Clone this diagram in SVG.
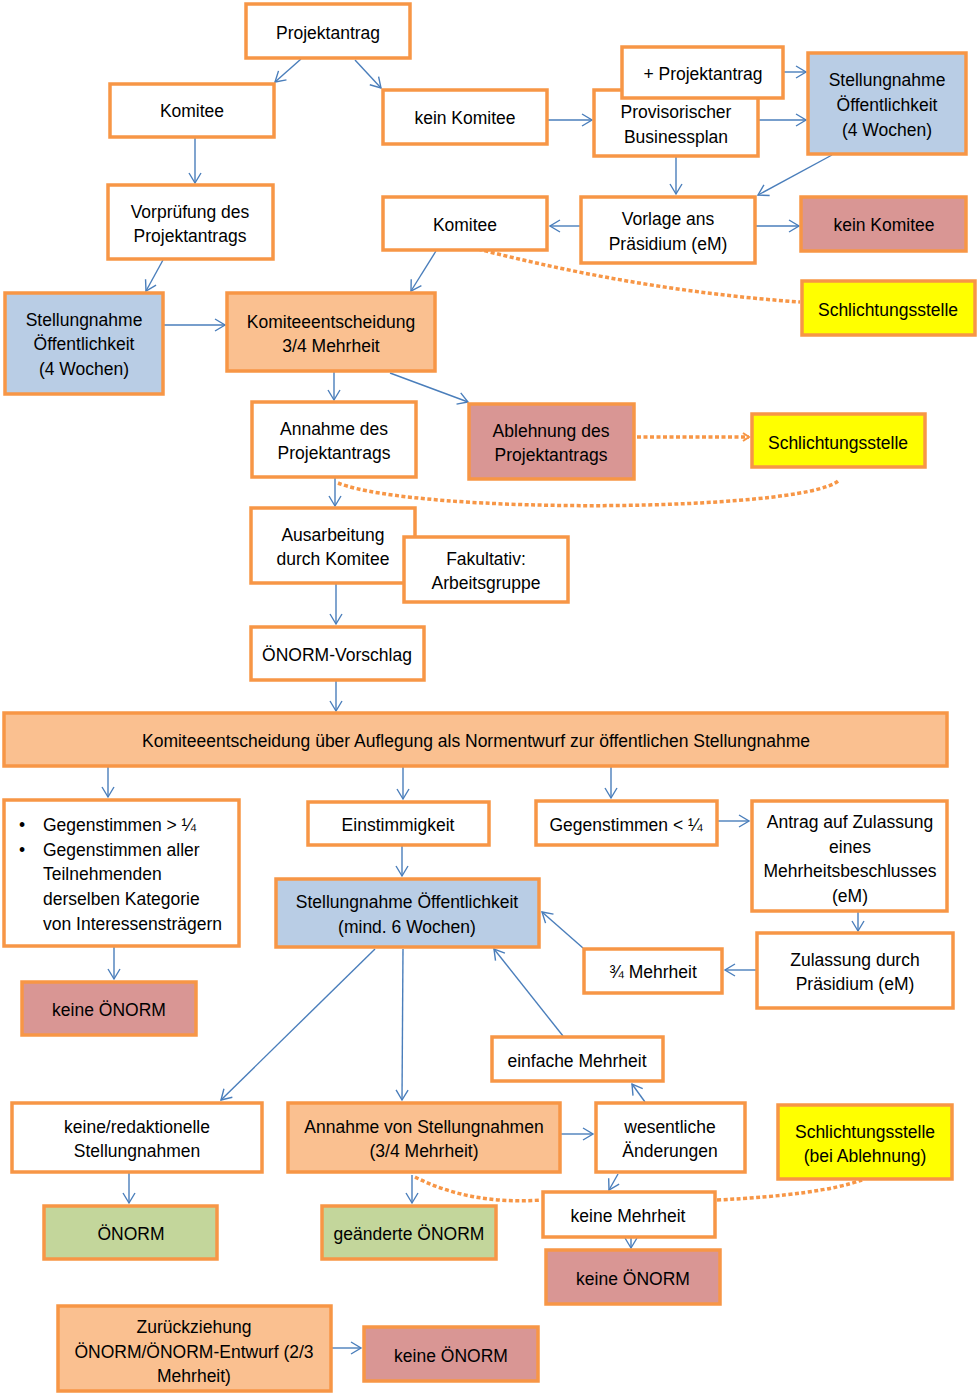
<svg xmlns="http://www.w3.org/2000/svg" width="980" height="1396" viewBox="0 0 980 1396">
<defs>
<style>
.b{stroke:#f79646;stroke-width:3.5;fill:#ffffff}
.bl{fill:#b9cde5}
.pe{fill:#fac090}
.rd{fill:#d99694}
.ye{fill:#ffff00}
.gr{fill:#c3d69b}
text{font-family:"Liberation Sans",Arial,sans-serif;font-size:17.5px;fill:#000;text-anchor:middle}
.c line,.c path.a{stroke:#4a7ebb;stroke-width:1.4;fill:none;marker-end:url(#ah)}
.d{stroke:#f79646;stroke-width:3.5;fill:none;stroke-dasharray:4 2.5}
</style>
<marker id="ah" markerUnits="userSpaceOnUse" markerWidth="14" markerHeight="14" refX="11" refY="7" orient="auto">
<path d="M1,1 L11,7 L1,13" fill="none" stroke="#4a7ebb" stroke-width="1.4"/>
</marker>
<marker id="oh" markerUnits="userSpaceOnUse" markerWidth="10" markerHeight="10" refX="7" refY="5" orient="auto">
<path d="M1,1 L7,5 L1,9" fill="none" stroke="#f79646" stroke-width="2"/>
</marker>
</defs>
<rect width="980" height="1396" fill="#ffffff"/>

<g id="connectors" class="c">
<line x1="301" y1="59" x2="275" y2="82"/>
<line x1="355" y1="60" x2="381" y2="88"/>
<line x1="195" y1="138" x2="195" y2="183"/>
<line x1="548" y1="120" x2="592" y2="120"/>
<line x1="784" y1="72" x2="806" y2="72"/>
<line x1="759" y1="120" x2="806" y2="120"/>
<line x1="676" y1="157" x2="676" y2="194"/>
<line x1="832" y1="155" x2="758" y2="195"/>
<line x1="580" y1="226" x2="550" y2="226"/>
<line x1="756" y1="226" x2="799" y2="226"/>
<line x1="436" y1="251" x2="411" y2="291"/>
<line x1="163" y1="260" x2="146" y2="291"/>
<line x1="164" y1="325" x2="225" y2="325"/>
<line x1="334" y1="372" x2="334" y2="400"/>
<line x1="390" y1="373" x2="468" y2="402"/>
<line x1="335" y1="478" x2="335" y2="506"/>
<line x1="336" y1="584" x2="336" y2="624"/>
<line x1="336" y1="681" x2="336" y2="711"/>
<line x1="108" y1="767" x2="108" y2="797"/>
<line x1="403" y1="767" x2="403" y2="799"/>
<line x1="611" y1="767" x2="611" y2="798"/>
<line x1="402" y1="846" x2="402" y2="876"/>
<line x1="718" y1="821" x2="749" y2="821"/>
<line x1="858" y1="912" x2="858" y2="931"/>
<line x1="756" y1="970" x2="725" y2="970"/>
<line x1="583" y1="948" x2="542" y2="912"/>
<line x1="563" y1="1036" x2="494" y2="949"/>
<line x1="114" y1="947" x2="114" y2="979"/>
<line x1="375" y1="949" x2="221" y2="1100"/>
<line x1="403" y1="949" x2="402" y2="1100"/>
<line x1="561" y1="1134" x2="593" y2="1134"/>
<line x1="645" y1="1102" x2="632" y2="1084"/>
<line x1="618" y1="1174" x2="609" y2="1190"/>
<line x1="129" y1="1173" x2="129" y2="1203"/>
<line x1="412" y1="1175" x2="412" y2="1203"/>
<line x1="631" y1="1238" x2="631" y2="1248"/>
<line x1="332" y1="1348" x2="361" y2="1348"/>
<path class="d" d="M478,249 Q642,291 800,302"/>
<path class="d" d="M637,437 L749,437" stroke-width="5" stroke-dasharray="2 2" marker-end="url(#oh)"/>
<path class="d" d="M338,483 C420,515 800,512 838,481"/>
<path class="d" d="M415,1177 Q470,1205 541,1200"/>
<path class="d" d="M717,1200 Q820,1195 862,1180"/>
</g>

<g id="n-projektantrag"><rect class="b" x="246" y="4" width="164" height="54"/><text x="328" y="39">Projektantrag</text></g>
<g id="n-komitee1"><rect class="b" x="110" y="84" width="164" height="53"/><text x="192" y="117">Komitee</text></g>
<g id="n-keinkomitee1"><rect class="b" x="383" y="90" width="164" height="54"/><text x="465" y="124">kein Komitee</text></g>
<g id="n-businessplan"><rect class="b" x="594" y="90" width="164" height="66"/><text x="676" y="118">Provisorischer</text><text x="676" y="143">Businessplan</text></g>
<g id="n-plusprojektantrag"><rect class="b" x="622" y="47" width="161" height="51"/><text x="703" y="80">+ Projektantrag</text></g>
<g id="n-stellung1"><rect class="b bl" x="808" y="53" width="158" height="101"/><text x="887" y="86">Stellungnahme</text><text x="887" y="111">Öffentlichkeit</text><text x="887" y="136">(4 Wochen)</text></g>
<g id="n-vorlage"><rect class="b" x="581" y="197" width="174" height="66"/><text x="668" y="225">Vorlage ans</text><text x="668" y="250">Präsidium (eM)</text></g>
<g id="n-keinkomitee2"><rect class="b rd" x="801" y="197" width="165" height="54"/><text x="884" y="231">kein Komitee</text></g>
<g id="n-komitee2"><rect class="b" x="383" y="197" width="164" height="53"/><text x="465" y="231">Komitee</text></g>
<g id="n-schlicht1"><rect class="b ye" x="802" y="281" width="173" height="54"/><text x="888" y="316">Schlichtungsstelle</text></g>
<g id="n-vorpruefung"><rect class="b" x="108" y="185" width="165" height="74"/><text x="190" y="218">Vorprüfung des</text><text x="190" y="242">Projektantrags</text></g>
<g id="n-stellung2"><rect class="b bl" x="5" y="293" width="158" height="101"/><text x="84" y="326">Stellungnahme</text><text x="84" y="350">Öffentlichkeit</text><text x="84" y="375">(4 Wochen)</text></g>
<g id="n-entscheid1"><rect class="b pe" x="227" y="293" width="208" height="78"/><text x="331" y="328">Komiteeentscheidung</text><text x="331" y="352">3/4 Mehrheit</text></g>
<g id="n-annahme"><rect class="b" x="252" y="402" width="164" height="75"/><text x="334" y="435">Annahme des</text><text x="334" y="459">Projektantrags</text></g>
<g id="n-ablehnung"><rect class="b rd" x="469" y="404" width="165" height="75"/><text x="551" y="437">Ablehnung des</text><text x="551" y="461">Projektantrags</text></g>
<g id="n-schlicht2"><rect class="b ye" x="752" y="414" width="173" height="53"/><text x="838" y="449">Schlichtungsstelle</text></g>
<g id="n-ausarbeitung"><rect class="b" x="251" y="508" width="164" height="75"/><text x="333" y="541">Ausarbeitung</text><text x="333" y="565">durch Komitee</text></g>
<g id="n-fakultativ"><rect class="b" x="404" y="537" width="164" height="65"/><text x="486" y="565">Fakultativ:</text><text x="486" y="589">Arbeitsgruppe</text></g>
<g id="n-vorschlag"><rect class="b" x="251" y="627" width="173" height="53"/><text x="337" y="661">ÖNORM-Vorschlag</text></g>
<g id="n-entscheid2"><rect class="b pe" x="4" y="713" width="943" height="53"/><text x="476" y="747">Komiteeentscheidung über Auflegung als Normentwurf zur öffentlichen Stellungnahme</text></g>
<g id="n-gegen-gt"><rect class="b" x="4" y="800" width="235" height="146"/>
<text x="22" y="831">•</text><text x="22" y="856">•</text>
<g style="text-anchor:start"><text x="43" y="831" style="text-anchor:start">Gegenstimmen &gt; ¼</text><text x="43" y="856" style="text-anchor:start">Gegenstimmen aller</text><text x="43" y="880" style="text-anchor:start">Teilnehmenden</text><text x="43" y="905" style="text-anchor:start">derselben Kategorie</text><text x="43" y="930" style="text-anchor:start">von Interessensträgern</text></g></g>
<g id="n-einstimmig"><rect class="b" x="308" y="802" width="181" height="43"/><text x="398" y="831">Einstimmigkeit</text></g>
<g id="n-gegen-lt"><rect class="b" x="536" y="801" width="181" height="44"/><text x="626" y="831">Gegenstimmen &lt; ¼</text></g>
<g id="n-antrag"><rect class="b" x="752" y="801" width="195" height="110"/><text x="850" y="828">Antrag auf Zulassung</text><text x="850" y="853">eines</text><text x="850" y="877">Mehrheitsbeschlusses</text><text x="850" y="902">(eM)</text></g>
<g id="n-stellung3"><rect class="b bl" x="276" y="879" width="263" height="68"/><text x="407" y="908">Stellungnahme Öffentlichkeit</text><text x="407" y="933">(mind. 6 Wochen)</text></g>
<g id="n-keineonorm1"><rect class="b rd" x="22" y="982" width="174" height="53"/><text x="109" y="1016">keine ÖNORM</text></g>
<g id="n-dreiviertel"><rect class="b" x="584" y="949" width="138" height="44"/><text x="653" y="978">¾ Mehrheit</text></g>
<g id="n-zulassung"><rect class="b" x="757" y="933" width="196" height="75"/><text x="855" y="966">Zulassung durch</text><text x="855" y="990">Präsidium (eM)</text></g>
<g id="n-einfach"><rect class="b" x="492" y="1037" width="171" height="44"/><text x="577" y="1067">einfache Mehrheit</text></g>
<g id="n-redaktionell"><rect class="b" x="12" y="1103" width="250" height="69"/><text x="137" y="1133">keine/redaktionelle</text><text x="137" y="1157">Stellungnahmen</text></g>
<g id="n-annahmestell"><rect class="b pe" x="288" y="1103" width="272" height="69"/><text x="424" y="1133">Annahme von Stellungnahmen</text><text x="424" y="1157">(3/4 Mehrheit)</text></g>
<g id="n-wesentlich"><rect class="b" x="596" y="1103" width="149" height="69"/><text x="670" y="1133">wesentliche</text><text x="670" y="1157">Änderungen</text></g>
<g id="n-schlicht3"><rect class="b ye" x="778" y="1105" width="174" height="74"/><text x="865" y="1138">Schlichtungsstelle</text><text x="865" y="1162">(bei Ablehnung)</text></g>
<g id="n-onorm"><rect class="b gr" x="44" y="1206" width="173" height="53"/><text x="131" y="1240">ÖNORM</text></g>
<g id="n-geaendert"><rect class="b gr" x="322" y="1206" width="174" height="53"/><text x="409" y="1240">geänderte ÖNORM</text></g>
<g id="n-keinemehrheit"><rect class="b" x="543" y="1192" width="172" height="45"/><text x="628" y="1222">keine Mehrheit</text></g>
<g id="n-keineonorm2"><rect class="b rd" x="546" y="1250" width="174" height="54"/><text x="633" y="1285">keine ÖNORM</text></g>
<g id="n-zurueck"><rect class="b pe" x="58" y="1306" width="273" height="85"/><text x="194" y="1333">Zurückziehung</text><text x="194" y="1358">ÖNORM/ÖNORM-Entwurf (2/3</text><text x="194" y="1382">Mehrheit)</text></g>
<g id="n-keineonorm3"><rect class="b rd" x="364" y="1327" width="174" height="54"/><text x="451" y="1362">keine ÖNORM</text></g>
</svg>
